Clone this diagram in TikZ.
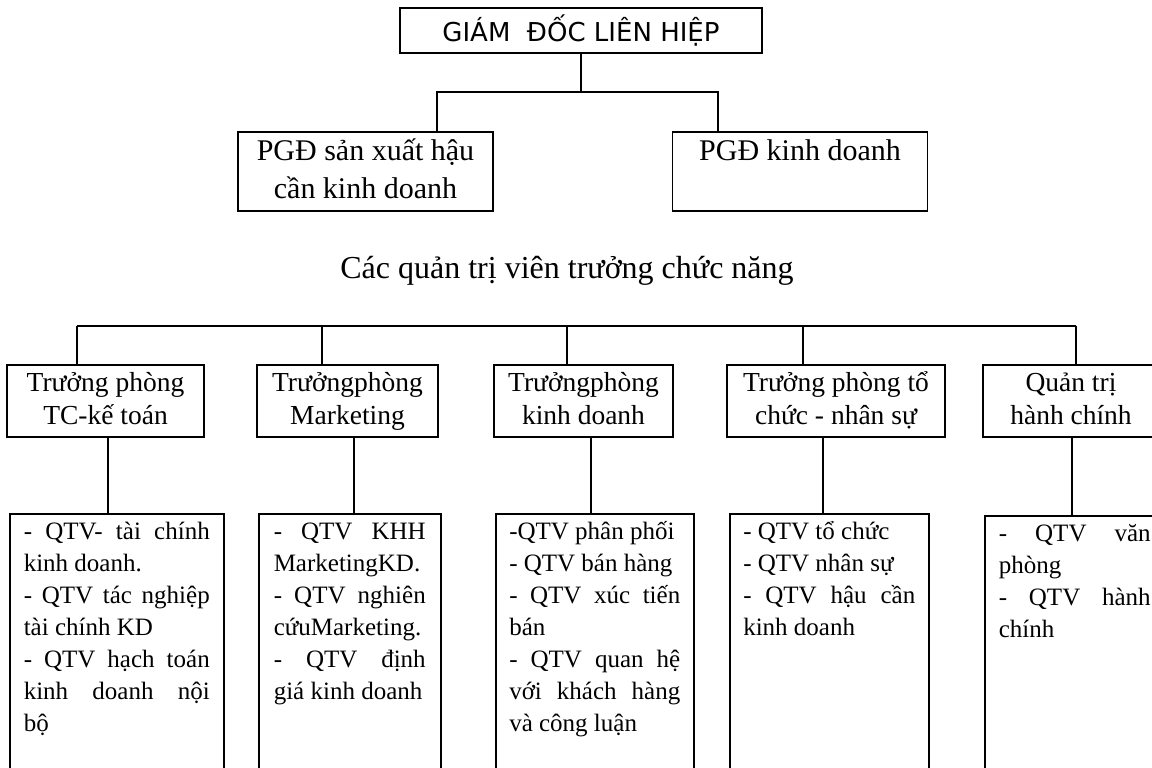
\documentclass[tikz,border=0pt]{standalone}
\usepackage{fontspec}
\setmainfont{Liberation Serif}
\newfontfamily\headfont{DejaVu Sans}
\hbadness=10000
\begin{document}
\begin{tikzpicture}[x=1pt,y=-1pt,
  headbox/.style={draw,line width=1.5pt,inner sep=0pt,minimum width=362pt,minimum height=45pt,font=\headfont\fontsize{26}{30}\selectfont},
  deputybox/.style={draw,line width=1.5pt,inner sep=0pt,align=center,minimum width=255pt,minimum height=79pt,font=\fontsize{30}{38}\selectfont},
  deptbox/.style={draw,line width=1.5pt,inner sep=0pt,align=center,minimum height=72pt,font=\fontsize{27.5}{33}\selectfont},
  itembox/.style={draw,line width=1.5pt,anchor=north west,inner ysep=0pt,text height=26pt,text depth=330pt,align=justify,font=\fontsize{25}{32}\selectfont},
  link/.style={line width=1.2pt}]
  \useasboundingbox (0,0) rectangle (1152,768);
  \clip (0,0) rectangle (1152,768);

  \node[headbox] (gd) at (581,30.5) {GIÁM\ \ ĐỐC LIÊN HIỆP};
  \node[deputybox] (pgd1) at (365.5,171.5) {PGĐ sản xuất hậu\strut\\cần kinh doanh\strut};
  \node[deputybox] (pgd2) at (800,171.5) {PGĐ kinh doanh\strut\\\strut};

  \coordinate (jl) at (437,92);
  \coordinate (jr) at (718,92);
  \draw[link] (gd.south) -- (gd.south |- jl);
  \draw[link] (pgd1.north -| jl) |- (jr) -- (pgd2.north -| jr);

  \node[anchor=base,font=\fontsize{32}{38}\selectfont] (title) at (567,278) {Các quản trị viên trưởng chức năng};

  \node[deptbox,minimum width=197pt] (m1) at (105.5,401) {\strut Trưởng phòng\\\strut TC-kế toán};
  \node[deptbox,minimum width=181pt] (m2) at (347.5,401) {\strut Trưởngphòng\\\strut Marketing};
  \node[deptbox,minimum width=179pt] (m3) at (583.5,401) {\strut Trưởngphòng\\\strut kinh doanh};
  \node[deptbox,minimum width=218pt] (m4) at (836,401) {\strut Trưởng phòng tổ\\\strut chức - nhân sự};
  \node[deptbox,minimum width=176pt] (m5) at (1071,401) {\strut Quản trị\\\strut hành chính};

  \coordinate (busl) at (77,326);
  \coordinate (busr) at (1076,326);
  \draw[link] (busl) -- (busr);
  \foreach \n/\x in {m1/77,m2/322,m3/567,m4/803,m5/1076}
  {
    \draw[link] (\x,0 |- busl) -- (\x,0 |- \n.north);
  }

  \node[itembox,text width=186pt,inner xsep=14pt] (b1) at (9,513) {- QTV- tài chính\linebreak kinh doanh.\par - QTV tác nghiệp\linebreak tài chính KD\par - QTV hạch toán\linebreak kinh doanh nội\linebreak bộ};
  \node[itembox,text width=152pt,inner xsep=15pt] (b2) at (258,513) {- QTV KHH\linebreak MarketingKD.\par - QTV nghiên\linebreak cứuMarketing.\par - QTV định\linebreak giá kinh doanh};
  \node[itembox,text width=171pt,inner xsep=13.5pt] (b3) at (495,513) {-QTV phân phối\par - QTV bán hàng\par - QTV xúc tiến\linebreak bán\par - QTV quan hệ\linebreak với khách hàng\linebreak và công luận};
  \node[itembox,text width=172pt,inner xsep=13.5pt] (b4) at (729,513) {- QTV tổ chức\par - QTV nhân sự\par - QTV hậu cần\linebreak kinh doanh};
  \node[itembox,text width=152pt,inner xsep=14pt] (b5) at (984,515) {- QTV văn\linebreak phòng\par - QTV hành\linebreak chính};

  \foreach \i/\x in {1/108,2/354,3/591,4/823,5/1072}
  {
    \draw[link] (\x,0 |- m\i.south) -- (\x,0 |- b\i.north);
  }
\end{tikzpicture}
\end{document}
